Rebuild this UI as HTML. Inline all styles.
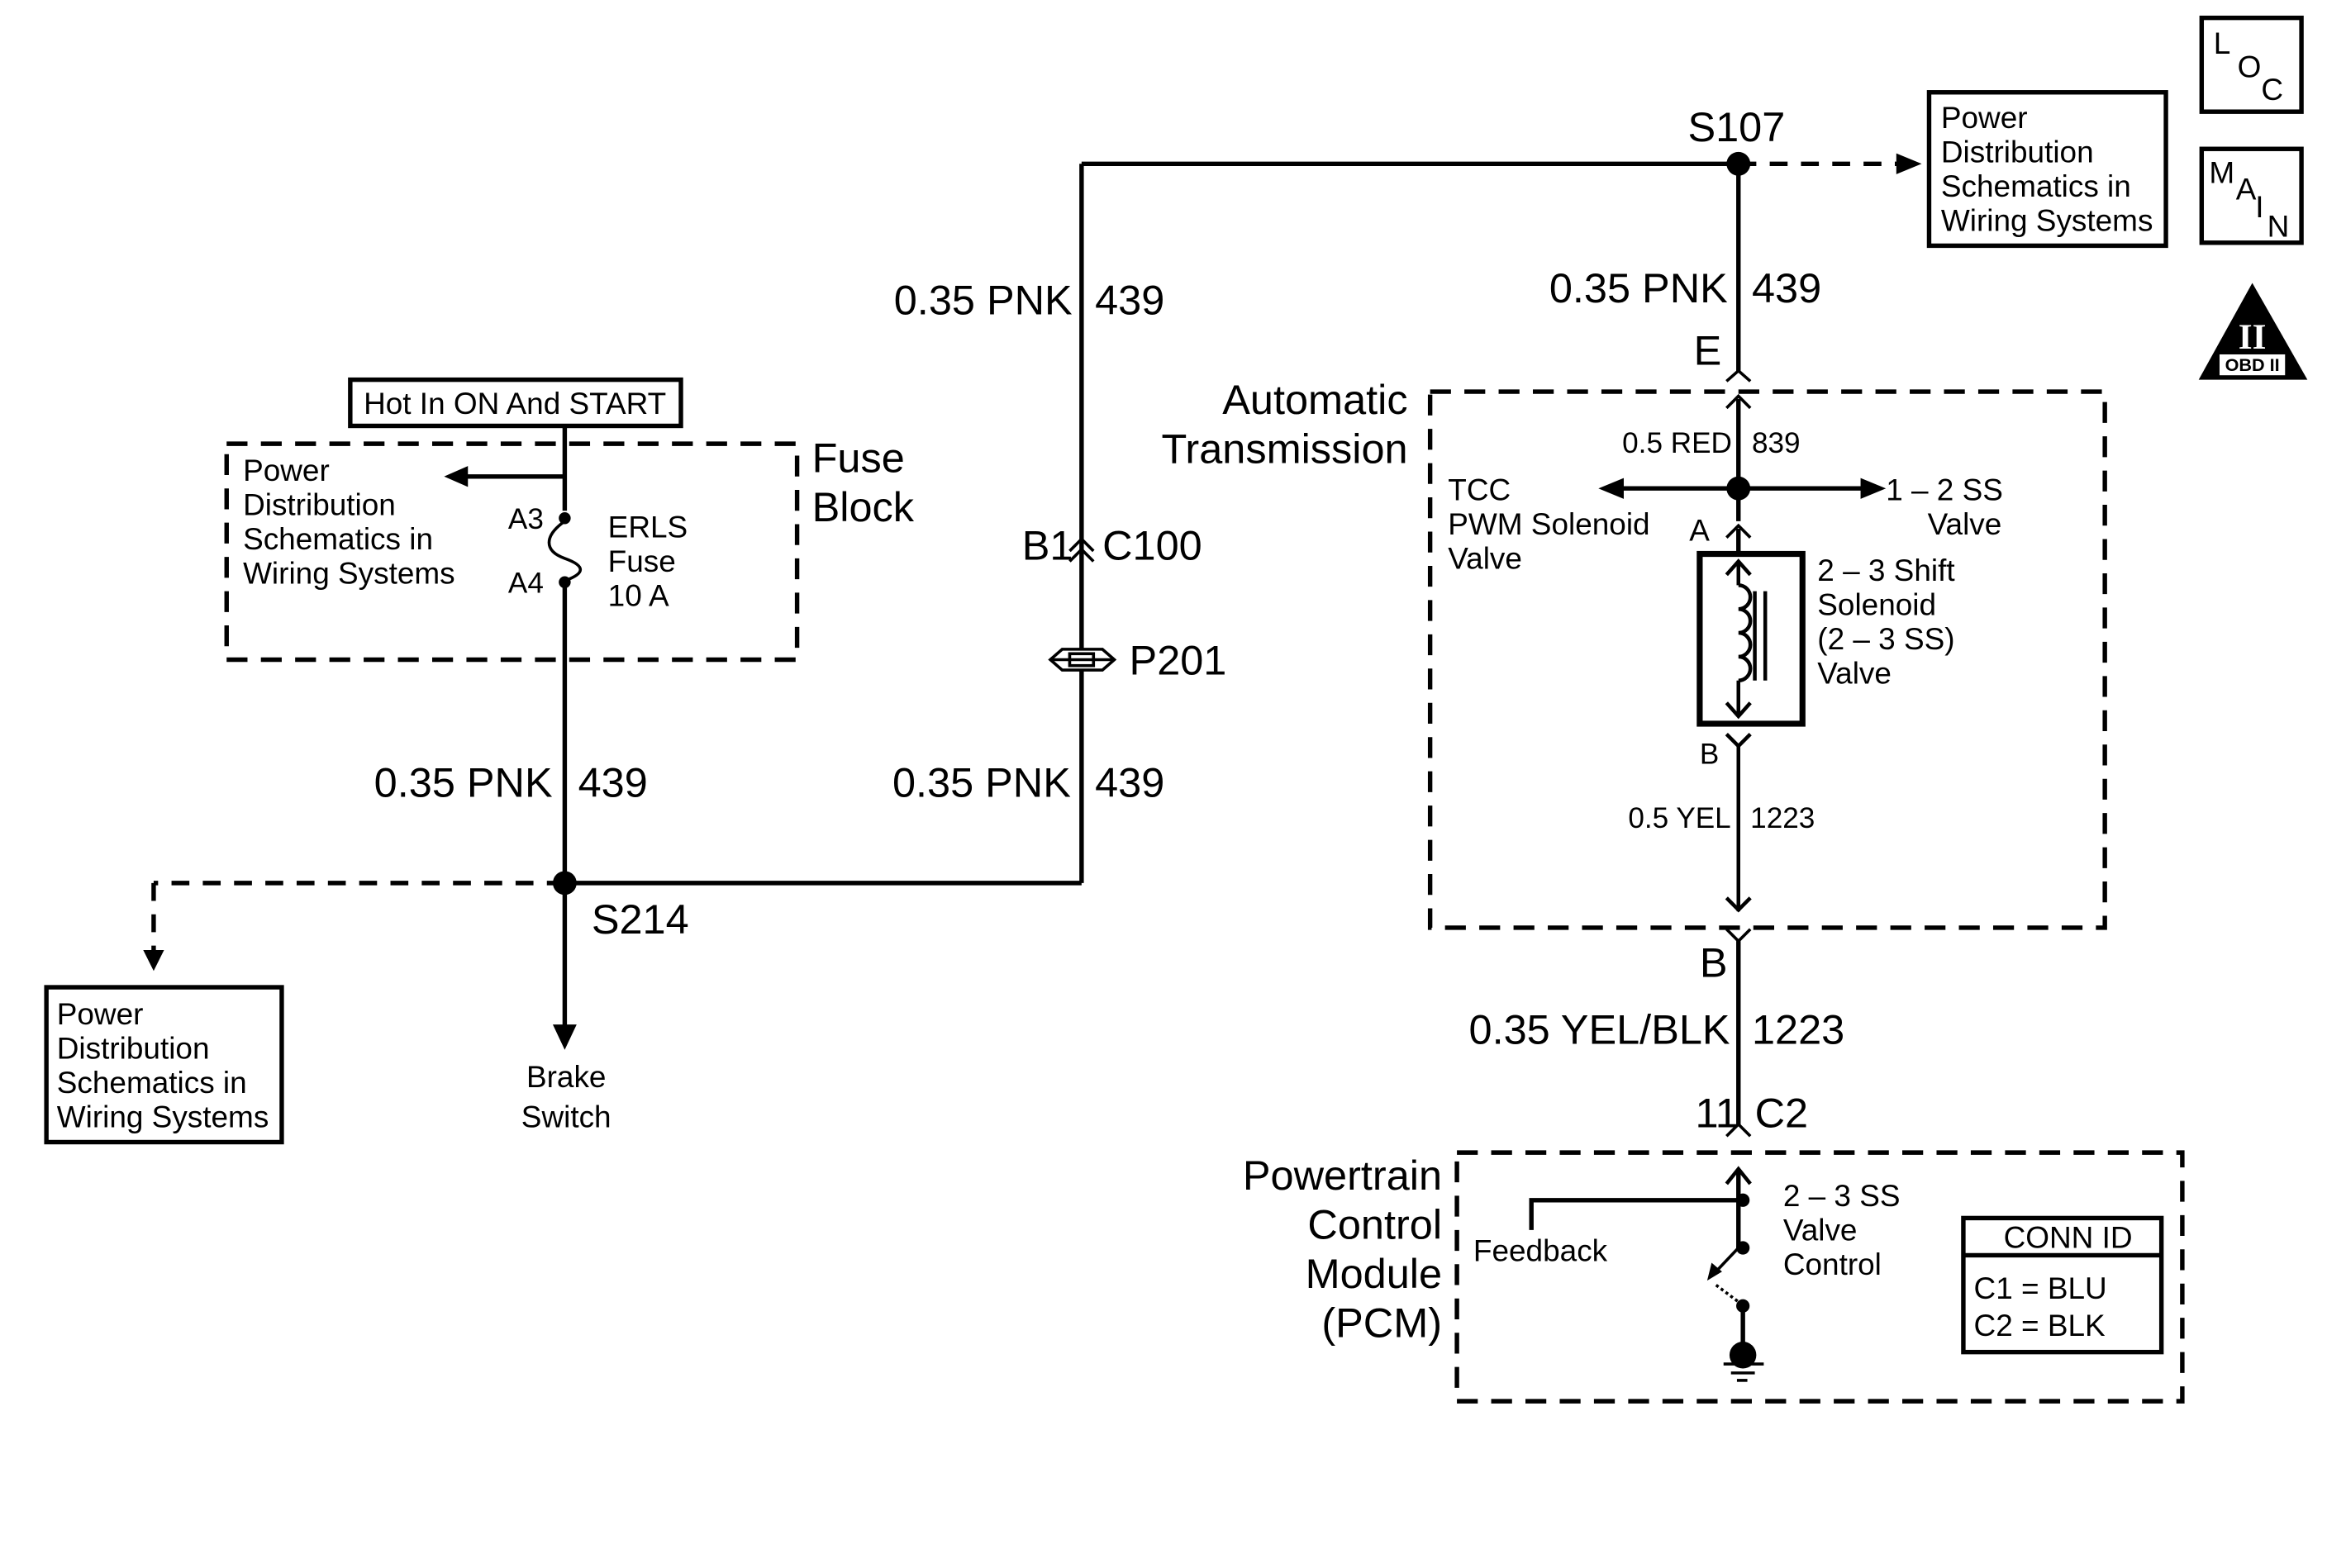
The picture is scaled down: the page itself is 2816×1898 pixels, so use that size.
<!DOCTYPE html>
<html><head><meta charset="utf-8"><style>html,body{margin:0;padding:0;background:#fff}svg{display:block}</style></head><body>
<svg width="2816" height="1898" viewBox="0 0 1562 1053" xmlns="http://www.w3.org/2000/svg" font-family="Liberation Sans, Arial, sans-serif" fill="#000">
<g stroke="#000" stroke-width="3" fill="none">
<rect x="235" y="255" width="222" height="31"/>
<rect x="152" y="298" width="383" height="145" stroke-dasharray="14,9"/>
<line x1="379" y1="286" x2="379" y2="343"/>
<line x1="379" y1="320" x2="312" y2="320"/>
<path d="M379,350 C365,360 365,370 379,375 C393,380 393,385 379,390" stroke-width="2"/>
<line x1="379" y1="392" x2="379" y2="690"/>
<line x1="379" y1="593" x2="726" y2="593"/>
<line x1="726" y1="593" x2="726" y2="110"/>
<line x1="726" y1="110" x2="1167" y2="110"/>
<line x1="379" y1="593" x2="103" y2="593" stroke-dasharray="12,9"/>
<line x1="103" y1="593" x2="103" y2="640" stroke-dasharray="12,9"/>
<rect x="31" y="663" width="158" height="104"/>
<path d="M718,370 L726,362 L734,370 M718,377 L726,369 L734,377" stroke-width="2"/>
<line x1="1167" y1="110" x2="1278" y2="110" stroke-dasharray="12,9"/>
<rect x="1295" y="62" width="159" height="103"/>
<line x1="1167" y1="110" x2="1167" y2="250"/>
<path d="M1159,256 L1167,249 L1175,256" stroke-width="2"/>
<rect x="960" y="263" width="453" height="360" stroke-dasharray="14,9"/>
<path d="M1159,274 L1167,266 L1175,274" stroke-width="2"/>
<line x1="1167" y1="268" x2="1167" y2="350"/>
<line x1="1167" y1="328" x2="1085" y2="328"/>
<line x1="1167" y1="328" x2="1255" y2="328"/>
<path d="M1159,361 L1167,353 L1175,361" stroke-width="2"/>
<line x1="1167" y1="355" x2="1167" y2="371"/>
<rect x="1141" y="372" width="69" height="114" stroke-width="4"/>
<line x1="1167" y1="377" x2="1167" y2="393" stroke-width="2.5"/>
<path d="M1159,386 L1167,377 L1175,386 M1159,472 L1167,481 L1175,472" stroke-width="2.5"/>
<path d="M1167,393 a8,8 0 0 1 0,16 a8,8 0 0 1 0,16 a8,8 0 0 1 0,16 a8,8 0 0 1 0,16" stroke-width="2.5"/>
<line x1="1167" y1="457" x2="1167" y2="481" stroke-width="2.5"/>
<line x1="1178" y1="397" x2="1178" y2="457" stroke-width="2.5"/>
<line x1="1185" y1="397" x2="1185" y2="457" stroke-width="2.5"/>
<path d="M1159,493 L1167,501 L1175,493 M1167,501 L1167,612" stroke-width="2.5"/>
<path d="M1159,603 L1167,611 L1175,603" stroke-width="2.5"/>
<path d="M1159,624 L1167,632 L1175,624" stroke-width="2"/>
<line x1="1167" y1="632" x2="1167" y2="756"/>
<path d="M1159,763 L1167,755 L1175,763" stroke-width="2"/>
<rect x="978" y="774" width="487" height="167" stroke-dasharray="14,9"/>
<path d="M1159,795 L1167,785 L1175,795" stroke-width="2.5"/>
<line x1="1167" y1="786" x2="1167" y2="838"/>
<path d="M1028,826 L1028,806 L1167,806"/>
<line x1="1167" y1="838" x2="1149" y2="857" stroke-width="2"/>
<path d="M1152,863 L1168,875" stroke-width="2" stroke-dasharray="2,2"/>
<line x1="1170" y1="876" x2="1170" y2="905"/>
<line x1="1157" y1="916" x2="1184" y2="916" stroke-width="2"/>
<line x1="1162" y1="922" x2="1178" y2="922" stroke-width="2"/>
<line x1="1166" y1="927" x2="1173" y2="927" stroke-width="2"/>
<rect x="1318" y="818" width="133" height="90"/>
<line x1="1318" y1="843" x2="1451" y2="843"/>
<rect x="1478" y="12" width="67" height="63"/>
<rect x="1478" y="100" width="67" height="63"/>
</g>
<path d="M298,320 L314,313 L314,327 Z"/>
<path d="M379,705 L371,688 L387,688 Z"/>
<path d="M103,652 L96,638 L110,638 Z"/>
<path d="M1290,110 L1273,103 L1273,117 Z"/>
<path d="M1073,328 L1090,321 L1090,335 Z"/>
<path d="M1266,328 L1249,321 L1249,335 Z"/>
<path d="M1146,860 L1149,848 L1156,854 Z"/>
<circle cx="379" cy="593" r="8"/>
<circle cx="1167" cy="110" r="8"/>
<circle cx="1167" cy="328" r="8"/>
<circle cx="379" cy="348" r="4"/>
<circle cx="379" cy="391" r="4"/>
<circle cx="1170" cy="806" r="4.5"/>
<circle cx="1170" cy="838" r="4.5"/>
<circle cx="1170" cy="877" r="4.5"/>
<circle cx="1170" cy="910" r="9"/>
<g stroke="#000" stroke-width="2" fill="#fff"><path d="M705,443 L713,436 L740,436 L748,443 L740,450 L713,450 Z"/><line x1="705" y1="443" x2="748" y2="443"/><rect x="718" y="439" width="16" height="8" fill="none"/></g>
<path d="M1512,190 L1549,255 L1476,255 Z"/>
<rect x="1490" y="238" width="44" height="14" fill="#fff"/>
<text x="1512" y="249" font-size="12" text-anchor="middle" font-weight="bold">OBD II</text>
<text x="1512" y="234" font-size="24" text-anchor="middle" fill="#fff" font-family="Liberation Serif, serif" font-weight="bold">II</text>
<g font-size="28">
<text x="1133" y="95">S107</text>
<text x="600" y="211">0.35 PNK</text><text x="735" y="211">439</text>
<text x="1040" y="203">0.35 PNK</text><text x="1176" y="203">439</text>
<text x="1137" y="245">E</text>
<text x="945" y="278" text-anchor="end">Automatic</text>
<text x="945" y="311" text-anchor="end">Transmission</text>
<text x="545" y="317">Fuse</text><text x="545" y="350">Block</text>
<text x="686" y="376">B1</text><text x="740" y="376">C100</text>
<text x="758" y="453">P201</text>
<text x="251" y="535">0.35 PNK</text><text x="388" y="535">439</text>
<text x="599" y="535">0.35 PNK</text><text x="735" y="535">439</text>
<text x="397" y="627">S214</text>
<text x="1141" y="656">B</text>
<text x="986" y="701">0.35 YEL/BLK</text><text x="1176" y="701">1223</text>
<text x="1138" y="757">11</text><text x="1178" y="757">C2</text>
<text x="968" y="799" text-anchor="end">Powertrain</text>
<text x="968" y="832" text-anchor="end">Control</text>
<text x="968" y="865" text-anchor="end">Module</text>
<text x="968" y="898" text-anchor="end">(PCM)</text>
</g>
<g font-size="20.5">
<text x="244" y="278">Hot In ON And START</text>
<text x="163" y="323">Power</text><text x="163" y="346">Distribution</text><text x="163" y="369">Schematics in</text><text x="163" y="392">Wiring Systems</text>
<text x="408" y="361">ERLS</text><text x="408" y="384">Fuse</text><text x="408" y="407">10 A</text>
<text x="38" y="688">Power</text><text x="38" y="711">Distribution</text><text x="38" y="734">Schematics in</text><text x="38" y="757">Wiring Systems</text>
<text x="380" y="730" text-anchor="middle">Brake</text><text x="380" y="757" text-anchor="middle">Switch</text>
<text x="1303" y="86">Power</text><text x="1303" y="109">Distribution</text><text x="1303" y="132">Schematics in</text><text x="1303" y="155">Wiring Systems</text>
<text x="972" y="336">TCC</text><text x="972" y="359">PWM Solenoid</text><text x="972" y="382">Valve</text>
<text x="1266" y="336">1 – 2 SS</text><text x="1294" y="359">Valve</text>
<text x="1220" y="390">2 – 3 Shift</text><text x="1220" y="413">Solenoid</text><text x="1220" y="436">(2 – 3 SS)</text><text x="1220" y="459">Valve</text>
<text x="1134" y="363">A</text>
<text x="989" y="847">Feedback</text>
<text x="1197" y="810">2 – 3 SS</text><text x="1197" y="833">Valve</text><text x="1197" y="856">Control</text>
<text x="1345" y="838">CONN ID</text>
<text x="1325" y="872">C1 = BLU</text><text x="1325" y="897">C2 = BLK</text>
<text x="1486" y="36">L</text><text x="1502" y="52">O</text><text x="1518" y="67">C</text>
<text x="1483" y="123">M</text><text x="1501" y="134">A</text><text x="1514" y="146">I</text><text x="1522" y="159">N</text>
</g>
<g font-size="19.5">
<text x="341" y="355">A3</text><text x="341" y="398">A4</text>
<text x="1089" y="304">0.5 RED</text><text x="1176" y="304">839</text>
<text x="1141" y="513">B</text>
<text x="1093" y="556">0.5 YEL</text><text x="1175" y="556">1223</text>
</g>
</svg>
</body></html>
